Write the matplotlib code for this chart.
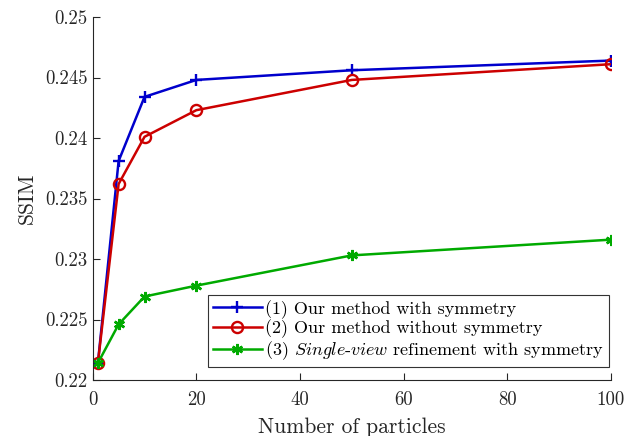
import matplotlib
matplotlib.use("Agg")
import matplotlib.pyplot as plt

plt.rcParams['font.family'] = 'serif'
plt.rcParams['font.serif'] = ['cmr10']
plt.rcParams['mathtext.fontset'] = 'cm'
plt.rcParams['axes.formatter.use_mathtext'] = True

particles = [1, 5, 10, 20, 50, 100]
ssim_sym = [0.2214, 0.2381, 0.2434, 0.2448, 0.2456, 0.2464]
ssim_nosym = [0.2214, 0.2362, 0.2401, 0.2423, 0.2448, 0.2461]
ssim_single = [0.2214, 0.2246, 0.2269, 0.2278, 0.2303, 0.2316]

labels = ["(1) Our method with symmetry",
          "(2) Our method without symmetry",
          r"(3) $\mathit{Single}$-$\mathit{view}$ refinement with symmetry"]

xticks = [0, 20, 40, 60, 80, 100]
yticks = [0.22, 0.225, 0.23, 0.235, 0.24, 0.245, 0.25]
ytick_labels = ["0.22", "0.225", "0.23", "0.235", "0.24", "0.245", "0.25"]

fig = plt.figure(figsize=(6.35, 4.36), dpi=100)
ax = fig.add_axes([0.146, 0.1284, 0.816, 0.8326])

ax.plot(particles, ssim_sym, color='#0000CC', lw=1.8, marker='+', ms=9, mew=1.7, label=labels[0])
ax.plot(particles, ssim_nosym, color='#CC0000', lw=1.8, marker='o', ms=8, mew=1.7,
        mfc='none', label=labels[1])
ax.plot(particles, ssim_single, color='#00AA00', lw=1.8, marker=(6, 2, 0), ms=8, mew=1.8,
        label=labels[2])

ax.set_xlim(0, 100)
ax.set_ylim(0.22, 0.25)
ax.set_xticks(xticks)
ax.set_xticklabels([str(t) for t in xticks])
ax.set_yticks(yticks)
ax.set_yticklabels(ytick_labels)
ax.tick_params(direction='in', length=5, width=0.8, color='#262626', labelsize=13.5,
               labelcolor='#262626')
ax.tick_params(axis='x', pad=8)
for s in ['top', 'right']:
    ax.spines[s].set_visible(False)
for s in ['left', 'bottom']:
    ax.spines[s].set_color('#262626')
    ax.spines[s].set_linewidth(0.8)

ax.set_xlabel("Number of particles", fontsize=15.5, color='#262626', labelpad=6)
ax.set_ylabel("SSIM", fontsize=15.5, color='#262626', labelpad=6)

leg = ax.legend(loc='lower right', bbox_to_anchor=(0.997, 0.035), fontsize=13,
                fancybox=False, edgecolor='#333333', framealpha=1,
                handlelength=2.7, handletextpad=0.2, borderpad=0.3,
                labelspacing=0.05, borderaxespad=0)
leg.get_frame().set_linewidth(0.8)

fig.savefig("out.png", dpi=100)
